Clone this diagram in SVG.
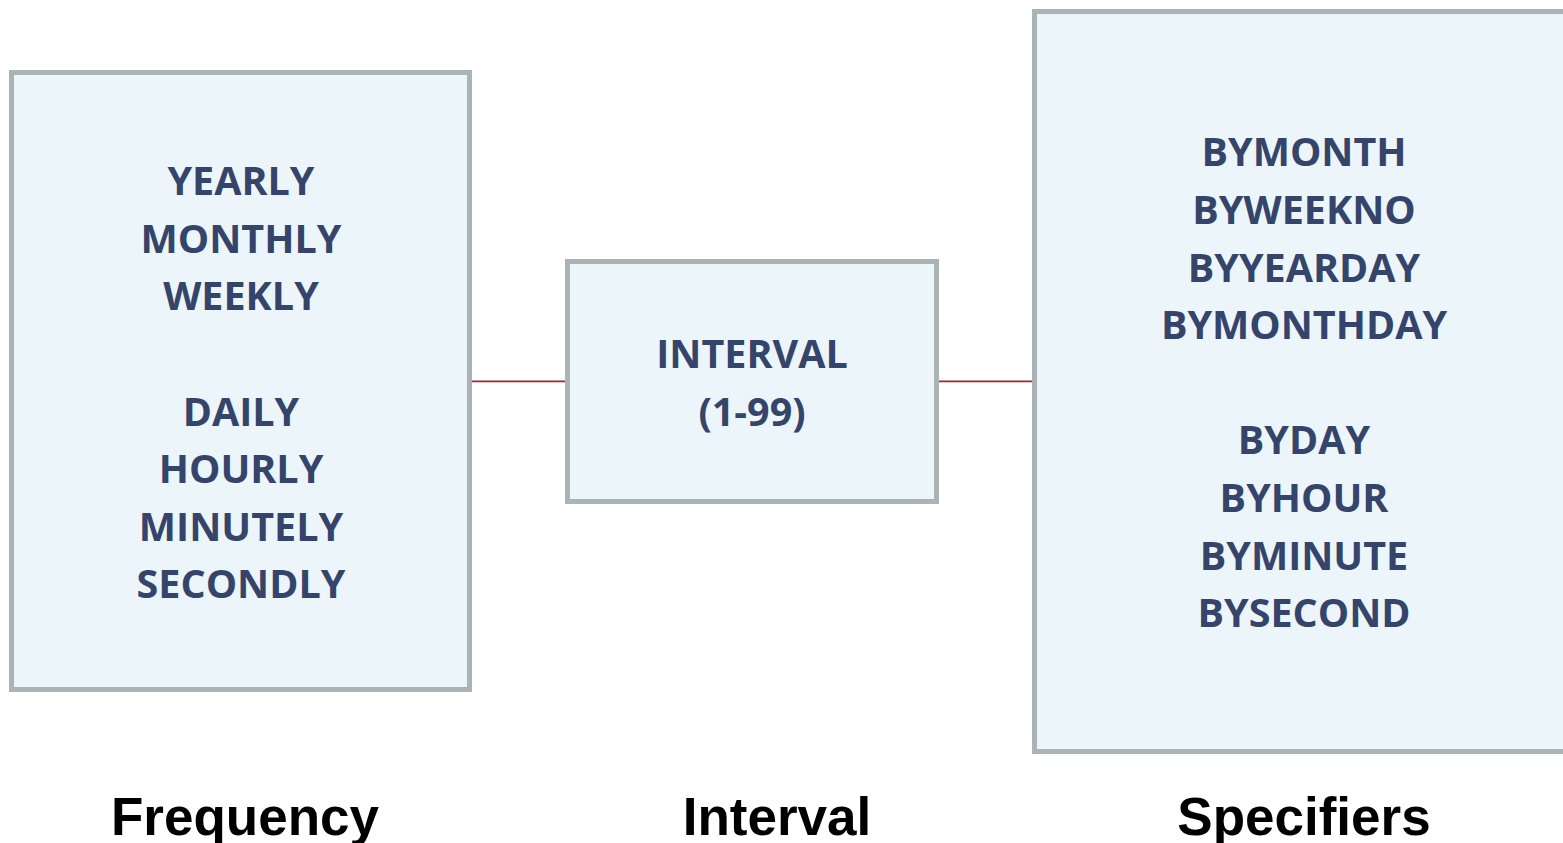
<svg xmlns="http://www.w3.org/2000/svg" width="1563" height="843" viewBox="0 0 1563 843">
<style>
.box{fill:#ECF5F9;stroke:#AAB3B5;stroke-width:5}
.t{font-family:"Open Sans","Liberation Sans",sans-serif;font-weight:700;font-size:39.5px;fill:#34446A;text-anchor:middle}
.lbl{font-family:"Liberation Sans",Arial,sans-serif;font-weight:700;font-size:53px;fill:#000;text-anchor:middle}
.c{stroke:#A0282C;stroke-width:1.8;fill:none}
</style>
<rect width="1563" height="843" fill="#fff"/>
<g id="connectors">
<line class="c" x1="470" y1="381.3" x2="567" y2="381.3"/>
<line class="c" x1="936" y1="381.3" x2="1034" y2="381.3"/>
</g>
<g id="frequency">
<rect class="box" x="11.5" y="72.5" width="458" height="617"/>
<text class="t" x="241" y="195">YEARLY</text>
<text class="t" x="241" y="253">MONTHLY</text>
<text class="t" x="241" y="310">WEEKLY</text>
<text class="t" x="241" y="426">DAILY</text>
<text class="t" x="241" y="483">HOURLY</text>
<text class="t" x="241" y="541">MINUTELY</text>
<text class="t" x="241" y="598">SECONDLY</text>
</g>
<g id="interval">
<rect class="box" x="567.5" y="261.5" width="369" height="240"/>
<text class="t" x="752" y="368">INTERVAL</text>
<text class="t" x="752" y="426">(1-99)</text>
</g>
<g id="specifiers">
<rect class="box" x="1034.5" y="11.5" width="540" height="740"/>
<text class="t" x="1304" y="166">BYMONTH</text>
<text class="t" x="1304" y="224">BYWEEKNO</text>
<text class="t" x="1304" y="282">BYYEARDAY</text>
<text class="t" x="1304" y="339">BYMONTHDAY</text>
<text class="t" x="1304" y="454">BYDAY</text>
<text class="t" x="1304" y="512">BYHOUR</text>
<text class="t" x="1304" y="570">BYMINUTE</text>
<text class="t" x="1304" y="627">BYSECOND</text>
</g>
<g id="labels">
<text class="lbl" x="245" y="835">Frequency</text>
<text class="lbl" x="777" y="835">Interval</text>
<text class="lbl" x="1304" y="835">Specifiers</text>
</g>
</svg>
